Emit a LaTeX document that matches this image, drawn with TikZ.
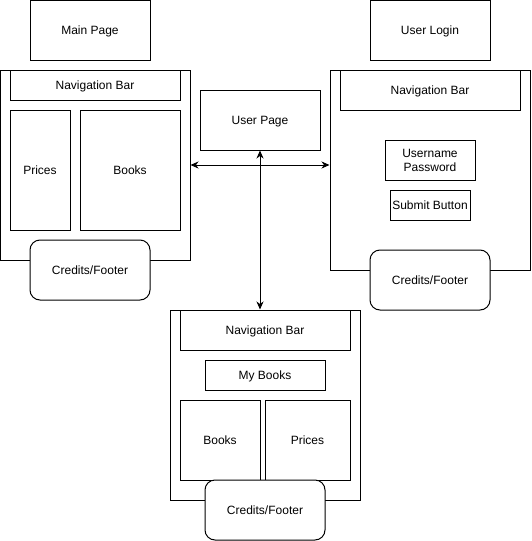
\documentclass[tikz,border=0pt]{standalone}
\usepackage{fontspec}
\setmainfont{Liberation Sans}
\usetikzlibrary{arrows.meta}

\begin{document}
\begin{tikzpicture}[x=1pt,y=-1pt,line width=1pt,
    every node/.style={font=\fontsize{12}{14}\selectfont,inner sep=0pt,align=center,text height=9.5pt,text depth=1pt},
    box/.style={draw,minimum width=#1},
    footer/.style={draw,fill=white,rounded corners=10pt,minimum width=120pt,minimum height=60pt},
    link/.style={{Stealth[length=8pt,width=7pt,inset=2.5pt]}-{Stealth[length=8pt,width=7pt,inset=2.5pt]}}]

    \useasboundingbox (0,0) rectangle (531,541); %marking border

    % main page
    \node[box=120pt,minimum height=60pt] (mainpage) at (90,30) {Main Page};
    \node[box=190pt,minimum height=190pt] (mainpanel) at (95,165) {};
    \node[box=170pt,minimum height=30pt] (mainnav) at (95,85) {Navigation Bar};
    \node[box=60pt,minimum height=120pt] (mainprices) at (40,170) {Prices};
    \node[box=100pt,minimum height=120pt] (mainbooks) at (130,170) {Books};
    \node[footer] (mainfooter) at (90,270) {Credits/Footer};

    % user login
    \node[box=120pt,minimum height=60pt] (login) at (430,30) {User Login};
    \node[box=200pt,minimum height=200pt] (loginpanel) at (430,170) {};
    \node[box=180pt,minimum height=40pt] (loginnav) at (430,90) {Navigation Bar};
    \node[box=90pt,minimum height=40pt,text height=23.5pt] (logincred) at (430,160) {Username\\Password};
    \node[box=80pt,minimum height=30pt] (loginsubmit) at (430,205) {Submit Button};
    \node[footer] (loginfooter) at (430,280) {Credits/Footer};

    % user page
    \node[box=120pt,minimum height=60pt] (userpage) at (260,120) {User Page};
    \node[box=190pt,minimum height=190pt] (userpanel) at (265,405) {};
    \node[box=170pt,minimum height=40pt] (usernav) at (265,330) {Navigation Bar};
    \node[box=120pt,minimum height=30pt] (usermybooks) at (265,375) {My Books};
    \node[box=80pt,minimum height=80pt] (userbooks) at (220,440) {Books};
    \node[box=85pt,minimum height=80pt] (userprices) at (307.5,440) {Prices};
    \node[footer] (userfooter) at (265,510) {Credits/Footer};

    \draw[link] (mainpanel.east) -- (mainpanel.east -| loginpanel.west);
    \draw[link] (userpage.south) -- (userpage.south |- userpanel.north);

\end{tikzpicture}
\end{document}
